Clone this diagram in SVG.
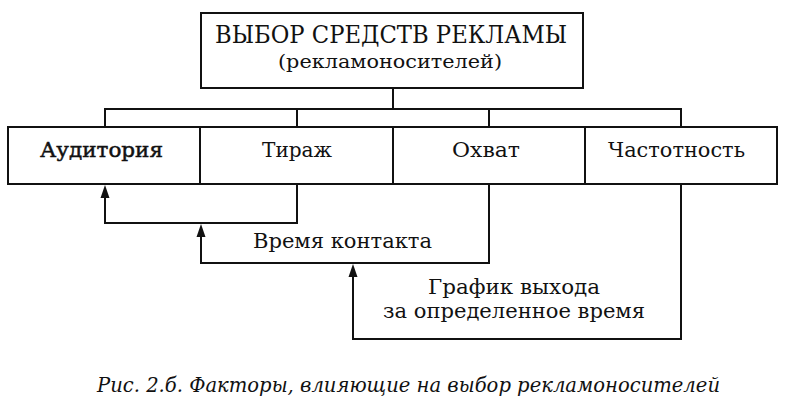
<svg xmlns="http://www.w3.org/2000/svg" width="788" height="410" viewBox="0 0 788 410">
<style>
.box{fill:#fff;stroke:#111;stroke-width:2}
.ln{fill:none;stroke:#111;stroke-width:2}
.t{font-family:"DejaVu Serif","Liberation Serif",serif;fill:#111;text-anchor:middle}
.ah{fill:#111}
</style>
<rect width="788" height="410" fill="#fff"/>
<g id="connectors">
<path class="ln" d="M393,88 V109 M105,127 V109 H681 V127 M297,109 V127 M489,109 V127"/>
<path class="ln" d="M297,184 V223 H105 V190"/>
<path class="ln" d="M489,184 V263 H201 V228"/>
<path class="ln" d="M681,184 V339 H353 V268"/>
<path class="ah" d="M100.5,198 L105,185 L109.5,198 Z"/>
<path class="ah" d="M196.5,237 L201,224 L205.5,237 Z"/>
<path class="ah" d="M348.5,277 L353,264 L357.5,277 Z"/>
</g>
<g id="title">
<rect class="box" x="201" y="13" width="382" height="75"/>
<text class="t" x="391" y="43" font-size="24" textLength="352" lengthAdjust="spacingAndGlyphs">ВЫБОР СРЕДСТВ РЕКЛАМЫ</text>
<text class="t" x="390" y="68" font-size="19" textLength="224" lengthAdjust="spacingAndGlyphs">(рекламоносителей)</text>
</g>
<g id="audience">
<rect class="box" x="8" y="127" width="192" height="57"/>
<text class="t" x="101.5" y="157" font-size="21" stroke="#111" stroke-width="0.5" textLength="123" lengthAdjust="spacingAndGlyphs">Аудитория</text>
</g>
<g id="circulation">
<rect class="box" x="200" y="127" width="193" height="57"/>
<text class="t" x="297" y="157" font-size="21" textLength="70" lengthAdjust="spacingAndGlyphs">Тираж</text>
</g>
<g id="reach">
<rect class="box" x="393" y="127" width="192" height="57"/>
<text class="t" x="486" y="157" font-size="21" textLength="68" lengthAdjust="spacingAndGlyphs">Охват</text>
</g>
<g id="frequency">
<rect class="box" x="585" y="127" width="192" height="57"/>
<text class="t" x="676.5" y="157" font-size="21" textLength="137" lengthAdjust="spacingAndGlyphs">Частотность</text>
</g>
<g id="contact-time">
<text class="t" x="342.5" y="248" font-size="20" textLength="179" lengthAdjust="spacingAndGlyphs">Время контакта</text>
</g>
<g id="schedule">
<text class="t" x="514" y="294" font-size="20" textLength="172" lengthAdjust="spacingAndGlyphs">График выхода</text>
<text class="t" x="514" y="318" font-size="20" textLength="262" lengthAdjust="spacingAndGlyphs">за определенное время</text>
</g>
<text class="t" x="408.5" y="392" font-size="21" font-style="italic" textLength="623" lengthAdjust="spacingAndGlyphs">Рис. 2.б. Факторы, влияющие на выбор рекламоносителей</text>
</svg>
